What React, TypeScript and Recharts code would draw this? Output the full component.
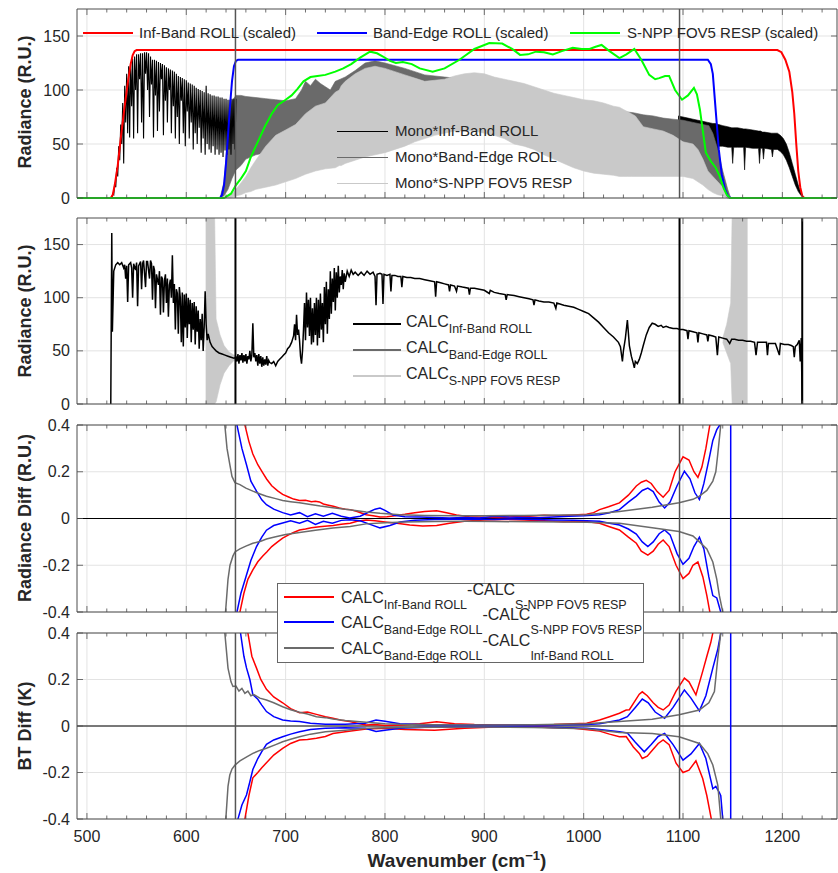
import React from 'react'
import { Area, CartesianGrid, ComposedChart, Line, ReferenceLine, XAxis, YAxis } from 'recharts'

const FONT = '"Liberation Sans", Arial, Helvetica, sans-serif'
const AXIS = '#4d4d4d'
const TXT = '#262626'
const GRID = '#e3e3e3'
const RED = '#ff0000'
const BLUE = '#0000ff'
const GREEN = '#00ff00'
const DARK = '#6a6a6a'
const LIGHT = '#c9c9c9'
const DIFF_GRAY = '#6b6b6b'
const PL = 77
const PR = 837

const X_DOMAIN: [number, number] = [490, 1255]
const xMajorTicks = [500, 600, 700, 800, 900, 1000, 1100, 1200]
const xAllTicks = [
  500, 520, 540, 560, 580, 600, 620, 640, 660, 680, 700, 720, 740, 760, 780, 800, 820, 840, 860,
  880, 900, 920, 940, 960, 980, 1000, 1020, 1040, 1060, 1080, 1100, 1120, 1140, 1160, 1180, 1200,
  1220, 1240,
]
const radTicks = [0, 50, 100, 150]
const diffTicks = [-0.4, -0.2, 0, 0.2, 0.4]
const bandEdges = [649.5, 1096.5]
const calcEdges = [649.5, 1096.5, 1220]

// ---- panel 1: response functions (scaled)
const infRollWn = [490, 524, 526, 528, 531, 534, 538, 541, 544, 546, 548, 550, 1195, 1199, 1203, 1207, 1210, 1212, 1214, 1216, 1218, 1220, 1222, 1255]
const infRollVal = [0, 0, 3, 12, 30, 55, 85, 106, 124, 132, 136, 137, 137, 135, 128, 117, 98, 78, 50, 25, 10, 2, 0, 0]
const edgeRollWn = [490, 634, 636, 638, 640, 642, 644, 646, 648, 650, 652, 1125, 1128, 1130, 1133, 1136, 1139, 1142, 1145, 1148, 1255]
const edgeRollVal = [0, 0, 3, 12, 32, 58, 85, 108, 122, 127, 128, 128, 124, 115, 80, 45, 22, 9, 2, 0, 0]
const snppWn = [
  490, 638, 645, 650, 655, 660, 665, 672, 679, 686, 692, 700, 706, 712, 718, 725, 732, 740, 750, 758,
  766, 775, 785, 792, 798, 805, 811, 818, 827, 835, 848, 860, 875, 890, 905, 918, 928, 936, 944, 952,
  960, 969, 978, 989, 998, 1006, 1012, 1018, 1026, 1036, 1043, 1051, 1058, 1066, 1072, 1076, 1082, 1086, 1092, 1099,
  1105, 1111, 1114, 1117, 1120, 1123, 1128, 1133, 1137, 1141, 1144, 1147, 1255,
]
const snppVal = [
  0, 0, 4, 12, 18, 25, 38, 52, 66, 78, 86, 91, 95, 101, 108, 112, 113, 114, 117, 120,
  124, 130, 135.5, 134, 131, 127, 125, 126, 124, 120, 117, 120, 128, 138, 143.5, 143, 138, 132.5, 133, 135.5,
  135, 133, 136, 139, 138, 138, 140, 141.7, 136, 129.6, 133, 138, 128, 114, 110, 111, 113, 113, 100, 91,
  95, 102, 96, 82, 62, 42, 34, 28, 20, 9, 3, 0, 0,
]

// ---- panel 1: mono spectra times responses
const monoInfWn = [
  525, 526, 527, 528, 529, 530, 531, 532, 533, 534, 535, 536, 537, 538, 539, 540, 541, 542, 543, 544,
  545, 546, 547, 548, 549, 550, 551, 552, 553, 554, 555, 556, 557, 558, 559, 560, 561, 562, 563, 564,
  565, 566, 567, 568, 569, 570, 571, 572, 573, 574, 575, 576, 577, 578, 579, 580, 581, 582, 583, 584,
  585, 586, 587, 588, 589, 590, 591, 592, 593, 594, 595, 596, 597, 598, 599, 600, 601, 602, 603, 604,
  605, 606, 607, 608, 609, 610, 611, 612, 613, 614, 615, 616, 617, 618, 619, 620, 621, 622, 623, 624,
  625, 626, 627, 628, 629, 630, 631, 632, 633, 634, 635, 636, 637, 638, 639, 640, 641, 642, 643, 644,
  645, 646, 647, 648, 649, 650,
]
const monoInfVal = [
  0, 4, 3, 14, 10, 28, 20, 48, 35, 68, 50, 88, 32, 104, 70, 115, 60, 122, 56, 126,
  85, 129, 55, 131, 100, 133, 60, 133, 110, 134, 70, 134, 55, 135, 115, 135, 100, 134, 75, 131,
  105, 128, 56, 128, 95, 127, 62, 126, 80, 125, 110, 124, 58, 123, 90, 121, 70, 120, 100, 119,
  60, 118, 85, 117, 55, 115, 75, 113, 50, 112, 90, 111, 60, 110, 48, 109, 80, 107, 55, 106,
  70, 105, 45, 104, 60, 102, 50, 101, 65, 100, 42, 99, 55, 98, 40, 104, 50, 97, 45, 96,
  42, 95, 48, 95, 40, 94, 45, 94, 40, 93, 42, 93, 38, 92, 44, 92, 40, 91, 45, 91,
  40, 92, 50, 92, 45, 92,
]
const monoInfTailWn = [1095, 1100, 1105, 1110, 1115, 1120, 1125, 1130, 1134, 1135, 1136, 1140, 1145, 1149, 1150, 1151, 1155, 1161, 1162, 1163, 1170, 1176, 1177, 1178, 1180, 1181, 1182, 1189, 1190, 1191, 1195, 1198, 1201, 1204, 1207, 1210, 1213, 1216, 1219, 1222]
const monoInfTailHi = [76, 75, 74, 73, 72, 71, 70, 69, 69, 68, 68, 67, 66, 65, 65, 65, 65, 64, 64, 64, 63, 62, 62, 62, 61, 61, 61, 60, 60, 60, 60, 58, 55, 50, 42, 32, 22, 12, 4, 0]
const monoInfTailLo = [66, 62, 58, 55, 52, 50, 49, 48, 48, 38, 48, 48, 47, 47, 32, 47, 47, 47, 26, 47, 46, 46, 32, 46, 46, 36, 46, 45, 38, 45, 45, 43, 40, 35, 28, 20, 12, 6, 2, 0]
const monoEdgeWn = [634, 638, 642, 646, 650, 655, 660, 670, 680, 690, 700, 710, 716, 720, 725, 730, 735, 740, 745, 750, 755, 760, 770, 780, 790, 800, 820, 840, 860, 880, 900, 920, 940, 960, 980, 1000, 1020, 1040, 1050, 1060, 1070, 1080, 1090, 1100, 1110, 1120, 1126, 1130, 1135, 1140, 1145, 1148]
const monoEdgeHi = [0, 15, 60, 90, 95, 95, 94, 93, 92, 91, 90, 92, 100, 108, 104, 110, 106, 103, 100, 108, 110, 112, 118, 125, 127, 125, 120, 114, 112, 110, 104, 100, 96, 92, 89, 86, 83, 80, 79, 77, 76, 74, 73, 72, 70, 68, 67, 60, 45, 25, 8, 0]
const monoEdgeLo = [0, 2, 8, 18, 26, 30, 36, 40, 42, 44, 46, 48, 50, 50, 52, 54, 55, 55, 56, 57, 58, 70, 80, 85, 90, 92, 90, 88, 86, 84, 80, 76, 70, 65, 60, 58, 58, 60, 62, 63, 62, 58, 50, 42, 35, 28, 22, 15, 8, 3, 0, 0]
const monoSnppWn = [638, 645, 650, 655, 660, 665, 670, 680, 690, 700, 710, 720, 730, 740, 750, 754, 756, 760, 770, 780, 790, 800, 810, 820, 830, 840, 850, 860, 870, 880, 890, 900, 910, 920, 930, 940, 950, 960, 970, 980, 990, 1000, 1010, 1020, 1030, 1036, 1040, 1044, 1048, 1052, 1060, 1070, 1080, 1090, 1100, 1110, 1115, 1120, 1125, 1130, 1135, 1140, 1146]
const monoSnppHi = [0, 3, 8, 14, 20, 28, 35, 48, 58, 63, 68, 78, 85, 88, 98, 100, 104, 108, 115, 120, 122, 120, 117, 114, 111, 108, 109, 110, 113, 115, 116, 115, 112, 110, 108, 106, 103, 100, 97, 95, 93, 91, 90, 88, 85, 84, 82, 80, 78, 76, 66, 64, 62, 58, 52, 50, 45, 36, 25, 20, 15, 10, 0]
const monoSnppLo = [0, 0, 2, 3, 5, 6, 8, 10, 12, 15, 18, 22, 25, 27, 28, 30, 30, 32, 35, 38, 40, 42, 45, 48, 52, 55, 58, 60, 62, 62, 62, 60, 58, 55, 50, 48, 45, 40, 36, 32, 28, 25, 23, 22, 21, 20, 20, 20, 20, 20, 20, 20, 20, 20, 20, 18, 15, 12, 8, 5, 3, 2, 0]

// ---- panel 2: convolved radiances
const calcWn = [
  524, 525, 525.6, 527, 529, 531, 533, 535, 537, 538,
  539, 540, 541, 542, 544, 545, 546, 547, 549, 550,
  551, 552, 554, 555, 556, 557, 559, 560, 561, 563,
  564, 565, 566, 567, 568, 569, 570, 572, 573, 574,
  575, 576, 577, 578, 579, 580, 581, 582, 583, 584,
  585, 586, 587, 588, 589, 590, 591, 592, 593, 594,
  595, 596, 597, 598, 599, 600, 601, 602, 603, 604,
  605, 606, 607, 608, 609, 610, 611, 612, 613, 614,
  615, 616, 617, 618, 619, 620, 621, 622, 624, 626,
  628, 630, 633, 636, 639, 642, 645, 648, 650, 651,
  652, 653, 654, 655, 656, 657, 658, 659, 660, 661,
  662, 663, 664, 665, 666, 667, 668, 669, 670, 671,
  672, 673, 674, 675, 676, 677, 678, 679, 680, 681,
  682, 683, 684, 686, 688, 690, 692, 694, 696, 698,
  700, 702, 704, 706, 708, 709, 710, 711, 712, 713,
  714, 715, 716, 717, 718, 719, 720, 721, 722, 723,
  724, 725, 726, 727, 728, 729, 730, 731, 732, 733,
  734, 735, 736, 737, 738, 739, 740, 741, 742, 743,
  744, 745, 746, 747, 748, 749, 750, 751, 752, 753,
  754, 755, 756, 757, 758, 759, 760, 762, 764, 766,
  768, 770, 773, 776, 779, 782, 785, 788, 790, 791,
  792, 795, 797, 798, 799, 802, 805, 806, 807, 810,
  813, 816, 817, 818, 822, 826, 830, 835, 840, 845,
  850, 851, 852, 856, 860, 864, 865, 866, 870, 872,
  873, 878, 884, 885, 886, 890, 895, 900, 905, 906,
  910, 915, 921, 922, 923, 930, 935, 940, 945, 949,
  950, 951, 955, 960, 965, 970, 972, 973, 980, 985,
  990, 995, 1000, 1005, 1010, 1015, 1020, 1025, 1030, 1035,
  1037, 1039, 1040, 1042, 1044, 1046, 1048, 1050, 1051, 1052,
  1054, 1056, 1058, 1060, 1063, 1066, 1069, 1072, 1075, 1078,
  1080, 1083, 1086, 1090, 1094, 1097, 1100, 1104, 1105, 1106,
  1110, 1114, 1115, 1116, 1120, 1124, 1125, 1126, 1130, 1133,
  1134.6, 1136, 1140, 1144, 1147, 1149, 1152, 1156, 1160, 1164,
  1168, 1172, 1173.5, 1175, 1180, 1184, 1185, 1186, 1190, 1193,
  1197, 1198, 1202, 1206, 1209, 1211, 1212, 1213, 1215, 1217,
  1218, 1219, 1220,
]
const calcVal = [
  0, 161, 68, 125, 131, 133, 131, 133, 128, 131,
  118, 130, 96, 131, 133, 128, 100, 132, 126, 133,
  92, 130, 134, 108, 132, 135, 110, 134, 134, 118,
  135, 132, 98, 130, 126, 90, 122, 112, 125, 84,
  120, 118, 86, 116, 122, 95, 118, 82, 112, 117,
  100, 140, 95, 113, 70, 108, 104, 66, 110, 100,
  58, 105, 54, 103, 72, 104, 62, 100, 75, 98,
  58, 95, 70, 96, 56, 92, 68, 88, 52, 80,
  60, 85, 50, 72, 106, 75, 60, 66, 58, 54,
  52, 50, 48, 47, 46, 45, 44, 43, 44, 40,
  47, 38, 46, 41, 48, 39, 46, 40, 47, 38,
  45, 42, 50, 40, 46, 76, 44, 48, 40, 46,
  36, 47, 38, 45, 35, 44, 36, 42, 37, 45,
  36, 41, 39, 38, 40, 36, 40, 42, 44, 46,
  48, 52, 54, 58, 64, 75, 60, 84, 65, 70,
  60, 45, 38, 50, 70, 95, 60, 105, 72, 98,
  64, 100, 56, 90, 58, 95, 65, 100, 55, 98,
  62, 104, 70, 95, 58, 110, 75, 115, 66, 108,
  80, 125, 85, 118, 96, 128, 88, 124, 100, 130,
  105, 120, 112, 126, 108, 123, 115, 125, 120, 126,
  122, 124, 121, 124, 121, 125, 122, 124, 120, 93,
  122, 123, 122, 94, 122, 121, 122, 106, 121, 121,
  120, 120, 110, 120, 119, 119, 118, 118, 117, 116,
  115, 101, 115, 114, 113, 112, 106, 112, 111, 106,
  111, 110, 109, 103, 109, 109, 108, 107, 104, 107,
  105, 104, 103, 98, 103, 102, 101, 100, 99, 98,
  93, 98, 97, 96, 96, 95, 90, 95, 93, 92,
  91, 89, 87, 85, 81, 77, 72, 67, 63, 58,
  54, 40, 50, 62, 79, 55, 45, 38, 34, 40,
  38, 42, 48, 55, 65, 72, 76, 75, 73, 74,
  72, 73, 72, 71, 71, 70, 70, 69, 61, 69,
  68, 67, 58, 67, 66, 65, 59, 65, 64, 63,
  46, 63, 62, 61, 57, 61, 61, 60, 60, 59,
  59, 58, 46, 58, 58, 58, 46, 57, 57, 57,
  46, 57, 56, 56, 55, 54, 44, 54, 56, 60,
  40, 62, 0,
]
const snppRingLeftWn = [619.5, 628.5, 630, 634, 638, 643, 648, 652]
const snppRingLeftLo = [0, 0, 2, 18, 29, 36, 41, 44]
const snppRingLeftHi = [180, 180, 80, 65, 55, 49, 46, 44]
const snppRingRightWn = [1140, 1144, 1148, 1149.5, 1165]
const snppRingRightLo = [58, 48, 38, 0, 0]
const snppRingRightHi = [62, 75, 95, 180, 180]

// ---- panel 3: radiance differences
const rdRedUpWn = [652, 659, 663, 667, 672, 677, 681, 686, 692, 697, 703, 708, 714, 720, 726, 730, 734, 738, 742, 748, 754, 760, 765, 772, 781, 788, 795, 802, 810, 820, 830, 840, 852, 862, 872, 885, 900, 915, 930, 945, 960, 975, 990, 1003, 1010, 1016, 1025, 1036, 1045, 1053, 1058, 1063, 1068, 1074, 1080, 1086, 1092, 1100, 1106, 1111, 1115, 1119, 1123, 1127, 1132]
const rdRedUpVal = [1.0, 0.4, 0.33, 0.276, 0.23, 0.195, 0.168, 0.14, 0.118, 0.103, 0.092, 0.083, 0.077, 0.078, 0.072, 0.074, 0.071, 0.062, 0.058, 0.052, 0.045, 0.04, 0.038, 0.03, 0.016, 0.012, 0.006, 0.008, 0.012, 0.018, 0.025, 0.03, 0.033, 0.025, 0.015, 0.008, 0.005, 0.004, 0.008, 0.01, 0.014, 0.012, 0.015, 0.018, 0.025, 0.038, 0.05, 0.067, 0.1, 0.139, 0.155, 0.163, 0.15, 0.115, 0.091, 0.12, 0.2, 0.264, 0.25, 0.2, 0.176, 0.22, 0.3, 0.4, 1.0]
const rdRedLoWn = [645, 654, 658, 662, 667, 672, 677, 681, 686, 692, 697, 703, 708, 714, 720, 726, 734, 742, 748, 756, 765, 772, 781, 790, 800, 812, 825, 838, 852, 865, 880, 900, 920, 940, 960, 980, 1000, 1016, 1026, 1036, 1045, 1053, 1058, 1064.6, 1070, 1075, 1080, 1086, 1093, 1100, 1106, 1110, 1115, 1120, 1124, 1127, 1132]
const rdRedLoVal = [-1.0, -0.4, -0.32, -0.26, -0.22, -0.185, -0.16, -0.143, -0.12, -0.1, -0.084, -0.07, -0.06, -0.049, -0.045, -0.04, -0.035, -0.032, -0.03, -0.025, -0.02, -0.012, -0.006, -0.01, -0.015, -0.02, -0.028, -0.032, -0.03, -0.02, -0.012, -0.006, -0.004, -0.006, -0.01, -0.014, -0.012, -0.02, -0.035, -0.049, -0.08, -0.106, -0.14, -0.157, -0.14, -0.11, -0.092, -0.12, -0.2, -0.257, -0.235, -0.2, -0.186, -0.25, -0.33, -0.4, -1.0]
const rdBlueUpWn = [645, 651, 656, 660.6, 665, 670.7, 676, 680.7, 688, 697, 705, 714, 722, 730, 738, 747, 756, 764.5, 775, 785, 790, 795, 800, 808, 820, 835, 850, 865, 880, 895, 910, 925, 940, 955, 970, 985, 1000, 1016, 1026, 1036, 1045, 1053, 1059, 1064.6, 1070, 1076, 1081.5, 1087, 1094, 1101.4, 1107, 1112, 1116.5, 1121, 1126, 1130, 1134, 1137, 1146, 1148, 1148]
const rdBlueUpVal = [1.0, 0.4, 0.3, 0.23, 0.16, 0.117, 0.08, 0.059, 0.04, 0.025, 0.015, 0.025, 0.008, 0.02, 0.01, 0.022, 0.01, 0.002, 0.01, 0.03, 0.04, 0.045, 0.035, 0.015, 0.008, 0.006, 0.004, 0.002, 0.004, 0.002, 0.01, 0.006, 0.004, 0.003, 0.006, 0.01, 0.012, 0.016, 0.025, 0.038, 0.07, 0.096, 0.12, 0.13, 0.115, 0.07, 0.045, 0.07, 0.14, 0.202, 0.17, 0.11, 0.081, 0.15, 0.25, 0.334, 0.38, 0.4, 2, 2, -2]
const rdBlueLoWn = [645, 651, 655, 660, 665, 670.7, 676, 680.7, 688, 697, 705, 714, 722, 730, 738, 747, 756, 765, 775, 785, 795, 805, 815, 830, 850, 870, 890, 910, 930, 950, 970, 990, 1003, 1016, 1026, 1036, 1045, 1053, 1059, 1064.6, 1070, 1076, 1081.5, 1087, 1094, 1100, 1106, 1111, 1116.5, 1121, 1126, 1130, 1134, 1138, 1140, 1145]
const rdBlueLoVal = [-1.0, -0.4, -0.32, -0.25, -0.18, -0.12, -0.08, -0.05, -0.03, -0.019, -0.01, -0.02, -0.008, -0.025, -0.012, -0.02, -0.008, -0.005, -0.01, -0.025, -0.04, -0.03, -0.015, -0.008, -0.004, -0.003, -0.002, -0.004, -0.002, -0.004, -0.006, -0.008, -0.01, -0.012, -0.02, -0.028, -0.045, -0.067, -0.1, -0.12, -0.1, -0.065, -0.049, -0.07, -0.15, -0.196, -0.17, -0.12, -0.08, -0.13, -0.25, -0.33, -0.34, -0.4, -0.6, -1.0]
const rdGrayUpWn = [636, 638.8, 641, 643.8, 646, 649, 654, 660, 667, 675, 680.7, 690, 697, 705, 714, 725, 735, 747.6, 760, 770, 781, 795, 815, 840, 870, 900, 940, 980, 1003, 1036, 1069, 1096, 1110, 1116.5, 1124, 1130, 1133, 1135, 1138, 1142]
const rdGrayUpVal = [1.0, 0.4, 0.3, 0.232, 0.18, 0.153, 0.145, 0.13, 0.117, 0.104, 0.095, 0.085, 0.077, 0.072, 0.067, 0.06, 0.053, 0.046, 0.04, 0.034, 0.028, 0.022, 0.016, 0.013, 0.012, 0.012, 0.013, 0.015, 0.016, 0.03, 0.048, 0.067, 0.082, 0.096, 0.12, 0.16, 0.2, 0.276, 0.4, 1.0]
const rdGrayLoWn = [636, 639.5, 642, 644, 647, 649, 654, 660, 667, 675, 680.7, 690, 700, 714, 730, 747.6, 765, 781, 800, 820, 850, 880, 910, 950, 980, 1003, 1036, 1069, 1096, 1110, 1116.5, 1124, 1130, 1134, 1136.6, 1140, 1144]
const rdGrayLoVal = [-1.0, -0.4, -0.26, -0.2, -0.16, -0.143, -0.13, -0.118, -0.106, -0.097, -0.088, -0.078, -0.068, -0.06, -0.05, -0.041, -0.034, -0.023, -0.018, -0.015, -0.013, -0.012, -0.013, -0.014, -0.015, -0.016, -0.02, -0.04, -0.056, -0.075, -0.1, -0.13, -0.186, -0.26, -0.33, -0.4, -1.0]

// ---- panel 4: brightness temperature differences
const btRedUpWn = [655, 662, 666, 670.6, 675, 680.7, 688, 697, 705, 714, 722, 731, 740, 747.6, 756, 764.5, 772, 781, 790, 800, 815, 835, 852, 870, 890, 910, 940, 970, 1003, 1016, 1026, 1036, 1042.8, 1046, 1052, 1056, 1059, 1064, 1070, 1075, 1080, 1086, 1093, 1101.4, 1106, 1113, 1119.8, 1124, 1128, 1130, 1134]
const btRedUpVal = [1.0, 0.4, 0.3, 0.25, 0.2, 0.158, 0.125, 0.1, 0.075, 0.057, 0.06, 0.05, 0.04, 0.033, 0.025, 0.019, 0.012, 0.004, 0.006, 0.002, 0.004, 0.01, 0.018, 0.01, 0.006, 0.004, 0.004, 0.006, 0.012, 0.026, 0.04, 0.055, 0.069, 0.07, 0.11, 0.137, 0.147, 0.13, 0.1, 0.08, 0.069, 0.09, 0.15, 0.206, 0.19, 0.134, 0.235, 0.3, 0.36, 0.4, 1.0]
const btRedLoWn = [652, 659, 663, 667, 672, 676, 680.7, 688, 697, 705, 714, 722, 731, 740, 747.6, 760, 781, 800, 820, 850, 880, 910, 950, 990, 1016, 1026, 1036, 1042.8, 1050, 1056, 1059, 1064, 1070, 1075, 1080, 1086, 1093, 1100, 1106, 1113, 1119.8, 1124, 1128.5, 1133]
const btRedLoVal = [-1.0, -0.4, -0.3, -0.223, -0.2, -0.18, -0.158, -0.125, -0.096, -0.075, -0.06, -0.058, -0.053, -0.045, -0.032, -0.025, -0.013, -0.01, -0.015, -0.018, -0.01, -0.004, -0.004, -0.01, -0.022, -0.035, -0.046, -0.045, -0.09, -0.118, -0.14, -0.13, -0.1, -0.075, -0.06, -0.08, -0.16, -0.2, -0.19, -0.15, -0.226, -0.3, -0.4, -1.0]
const btBlueUpWn = [650, 654.6, 658, 660.6, 664, 667, 672, 676, 680.7, 688, 697, 705, 714, 725, 740, 760, 780, 791, 800, 815, 840, 870, 900, 950, 1003, 1016, 1036, 1044, 1052, 1059, 1065, 1072, 1081.5, 1090, 1101.4, 1108, 1116.5, 1123, 1130, 1135, 1138, 1146, 1148, 1148]
const btBlueUpVal = [1.0, 0.4, 0.3, 0.25, 0.2, 0.135, 0.115, 0.09, 0.062, 0.04, 0.026, 0.022, 0.019, 0.012, 0.008, 0.008, 0.012, 0.026, 0.02, 0.01, 0.005, 0.004, 0.003, 0.004, 0.006, 0.01, 0.026, 0.04, 0.08, 0.116, 0.1, 0.06, 0.033, 0.08, 0.155, 0.12, 0.065, 0.13, 0.249, 0.33, 0.4, 2, 2, -2]
const btBlueLoWn = [648, 652, 656, 660.6, 664, 667, 672, 676, 680.7, 688, 697, 705, 714, 725, 740, 760, 780, 791, 800, 815, 840, 870, 900, 950, 1003, 1016, 1036, 1044, 1052, 1061, 1068, 1075, 1081.5, 1090, 1100, 1108, 1116.5, 1123, 1130, 1133, 1136.6, 1138, 1140, 1145]
const btBlueLoVal = [-1.0, -0.4, -0.34, -0.297, -0.24, -0.187, -0.14, -0.11, -0.079, -0.06, -0.046, -0.035, -0.025, -0.015, -0.01, -0.008, -0.01, -0.024, -0.018, -0.01, -0.005, -0.004, -0.003, -0.004, -0.01, -0.015, -0.025, -0.03, -0.07, -0.111, -0.08, -0.045, -0.032, -0.08, -0.147, -0.12, -0.075, -0.14, -0.27, -0.26, -0.286, -0.3, -0.4, -1.0]
const btGrayUpWn = [636, 638.8, 642, 645, 647, 650, 653, 656, 659, 662, 665, 668, 674, 680.7, 688, 697, 705, 714, 722, 731, 740, 747.6, 760, 781, 800, 815, 850, 900, 950, 1003, 1036, 1069, 1096, 1116.5, 1126, 1131.6, 1135, 1138, 1142]
const btGrayUpVal = [1.0, 0.4, 0.249, 0.19, 0.17, 0.172, 0.15, 0.162, 0.14, 0.15, 0.13, 0.135, 0.12, 0.112, 0.1, 0.083, 0.07, 0.059, 0.052, 0.04, 0.036, 0.03, 0.024, 0.016, 0.01, 0.007, 0.005, 0.004, 0.005, 0.01, 0.019, 0.029, 0.048, 0.069, 0.1, 0.148, 0.292, 0.4, 1.0]
const btGrayLoWn = [637, 639.8, 642, 643.8, 646, 649, 654, 660, 667, 674, 680.7, 690, 697, 705, 714, 725, 740, 760, 781, 800, 850, 900, 950, 1003, 1036, 1069, 1096, 1116.5, 1125, 1130, 1135, 1138, 1142]
const btGrayLoVal = [-1.0, -0.4, -0.26, -0.211, -0.185, -0.168, -0.15, -0.135, -0.118, -0.105, -0.096, -0.08, -0.068, -0.057, -0.046, -0.035, -0.025, -0.018, -0.01, -0.007, -0.005, -0.004, -0.006, -0.012, -0.028, -0.032, -0.046, -0.075, -0.12, -0.168, -0.254, -0.4, -1.0]

const pts = (xs: number[], ys: number[]) => xs.map((x, i) => ({ x, y: ys[i] }))
const band = (xs: number[], lo: number[], hi: number[]) => xs.map((x, i) => ({ x, r: [lo[i], hi[i]] }))

const bottomTick = (py: number, labels: boolean) => (p: any) => {
  const v = Number(p.payload?.value)
  const major = v % 100 === 0
  return (
    <g>
      <line x1={p.x} x2={p.x} y1={py} y2={py - (major ? 6 : 3.5)} stroke={AXIS} strokeWidth={0.8} />
      {labels && major ? (
        <text x={p.x} y={py + 23} textAnchor="middle" fontSize={16} fontFamily={FONT} fill={TXT}>
          {v}
        </text>
      ) : null}
    </g>
  )
}

const topTick = (py: number) => (p: any) => {
  const v = Number(p.payload?.value)
  const major = v % 100 === 0
  return <line x1={p.x} x2={p.x} y1={py} y2={py + (major ? 6 : 3.5)} stroke={AXIS} strokeWidth={0.8} />
}

const leftTick = (p: any) => {
  const v = Number(p.payload?.value)
  return (
    <g>
      <line x1={PL} x2={PL + 6} y1={p.y} y2={p.y} stroke={AXIS} strokeWidth={0.8} />
      <text x={PL - 7} y={p.y + 5.5} textAnchor="end" fontSize={16} fontFamily={FONT} fill={TXT}>
        {String(v)}
      </text>
    </g>
  )
}

const rightTick = (p: any) => <line x1={PR} x2={PR - 6} y1={p.y} y2={p.y} stroke={AXIS} strokeWidth={0.8} />

type PanelProps = {
  plotTop: number
  plotH: number
  yDomain: [number, number]
  yTicks: number[]
  xLabels?: boolean
  clip?: boolean
  children: React.ReactNode
}

// axes get a 1px box so recharts draws them; plot box is PL..PR horizontally, mt..mt+plotH vertically
function Panel({ plotTop, plotH, yDomain, yTicks, xLabels, clip, children }: PanelProps) {
  const mt = 12
  const mb = xLabels ? 32 : 12
  return (
    <div style={{ position: 'absolute', left: 0, top: plotTop - mt }}>
      <ComposedChart width={838} height={plotH + mt + mb} margin={{ top: mt - 1, right: 0, bottom: mb - 1, left: 0 }}>
        <CartesianGrid stroke={GRID} verticalValues={xMajorTicks} horizontalValues={yTicks} />
        <XAxis type="number" dataKey="x" domain={X_DOMAIN} allowDataOverflow ticks={xAllTicks} interval={0} height={1}
          tickSize={0} tickMargin={0} tickLine={false} axisLine={{ stroke: AXIS }} tick={bottomTick(mt + plotH, !!xLabels)} />
        <XAxis xAxisId="top" orientation="top" type="number" dataKey="x" domain={X_DOMAIN} allowDataOverflow ticks={xAllTicks}
          interval={0} height={1} tickSize={0} tickMargin={0} tickLine={false} axisLine={{ stroke: AXIS }} tick={topTick(mt)} />
        <YAxis type="number" domain={yDomain} allowDataOverflow={!!clip} ticks={yTicks} interval={0} width={PL}
          tickSize={0} tickMargin={0} tickLine={false} axisLine={{ stroke: AXIS }} tick={leftTick} />
        <YAxis yAxisId="right" orientation="right" type="number" domain={yDomain} allowDataOverflow ticks={yTicks} interval={0}
          width={838 - PR} tickSize={0} tickMargin={0} tickLine={false} axisLine={{ stroke: AXIS }} tick={rightTick} />
        {children}
      </ComposedChart>
    </div>
  )
}

const lineProps = { dot: false, activeDot: false, isAnimationActive: false, type: 'linear' as const, dataKey: 'y' }
const areaProps = { isAnimationActive: false, type: 'linear' as const, dataKey: 'r', fillOpacity: 1, activeDot: false }

function Swatch({ x, y, w, h, color }: { x: number; y: number; w: number; h: number; color: string }) {
  return <div style={{ position: 'absolute', left: x, top: y - h / 2, width: w, height: h, background: color }} />
}

function Txt({ x, y, size, children }: { x: number; y: number; size: number; children: React.ReactNode }) {
  return (
    <div style={{ position: 'absolute', left: x, top: y - size * 0.6, fontSize: size, lineHeight: `${size * 1.2}px`, whiteSpace: 'nowrap' }}>
      {children}
    </div>
  )
}

const Sub = ({ t }: { t: string }) => <span style={{ fontSize: 12.5, position: 'relative', top: 5.5 }}>{t}</span>
const Calc = ({ a, b }: { a: string; b?: string }) => (
  <>
    CALC<Sub t={a} />
    {b ? (
      <>
        <span style={{ position: 'relative', top: -8 }}>-CALC</span>
        <Sub t={b} />
      </>
    ) : null}
  </>
)

function YTitle({ x, y, text }: { x: number; y: number; text: string }) {
  return (
    <div style={{ position: 'absolute', left: x, top: y, transform: 'translate(-50%, -50%) rotate(-90deg)', whiteSpace: 'nowrap', fontWeight: 'bold', fontSize: 18 }}>
      {text}
    </div>
  )
}

export default function App() {
  return (
    <div style={{ position: 'absolute', left: 0, top: 0, width: 838, height: 873, background: '#fff', fontFamily: FONT, color: TXT, overflow: 'hidden' }}>
      <Panel plotTop={9} plotH={189} yDomain={[0, 175]} yTicks={radTicks}>
        <Line {...lineProps} data={pts(monoInfWn, monoInfVal)} stroke="#000" strokeWidth={1.1} />
        <Area {...areaProps} data={band(monoInfTailWn, monoInfTailLo, monoInfTailHi)} stroke="#000" strokeWidth={0.6} fill="#000" />
        <Area {...areaProps} data={band(monoEdgeWn, monoEdgeLo, monoEdgeHi)} stroke={DARK} strokeWidth={0.6} fill={DARK} />
        <Area {...areaProps} data={band(monoSnppWn, monoSnppLo, monoSnppHi)} stroke={LIGHT} strokeWidth={0.6} fill={LIGHT} />
        <Line {...lineProps} data={pts(infRollWn, infRollVal)} stroke={RED} strokeWidth={2} />
        <Line {...lineProps} data={pts(edgeRollWn, edgeRollVal)} stroke={BLUE} strokeWidth={2} />
        <Line {...lineProps} data={pts(snppWn, snppVal)} stroke={GREEN} strokeWidth={2} />
        {bandEdges.map((v) => (
          <ReferenceLine key={v} x={v} stroke="#555" strokeWidth={1.5} />
        ))}
      </Panel>

      <Panel plotTop={218} plotH={186} yDomain={[0, 175]} yTicks={radTicks} clip>
        <Area {...areaProps} data={band(snppRingLeftWn, snppRingLeftLo, snppRingLeftHi)} stroke={LIGHT} strokeWidth={0.6} fill={LIGHT} />
        <Area {...areaProps} data={band(snppRingRightWn, snppRingRightLo, snppRingRightHi)} stroke={LIGHT} strokeWidth={0.6} fill={LIGHT} />
        <Line {...lineProps} data={pts(calcWn, calcVal)} stroke="#000" strokeWidth={1.5} />
        {calcEdges.map((v) => (
          <ReferenceLine key={v} x={v} stroke="#000" strokeWidth={2} />
        ))}
      </Panel>

      <Panel plotTop={425} plotH={187} yDomain={[-0.4, 0.4]} yTicks={diffTicks} clip>
        <ReferenceLine y={0} stroke="#000" strokeWidth={1} />
        <Line {...lineProps} data={pts(rdRedUpWn, rdRedUpVal)} stroke={RED} strokeWidth={1.5} />
        <Line {...lineProps} data={pts(rdRedLoWn, rdRedLoVal)} stroke={RED} strokeWidth={1.5} />
        <Line {...lineProps} data={pts(rdBlueUpWn, rdBlueUpVal)} stroke={BLUE} strokeWidth={1.5} />
        <Line {...lineProps} data={pts(rdBlueLoWn, rdBlueLoVal)} stroke={BLUE} strokeWidth={1.5} />
        <Line {...lineProps} data={pts(rdGrayUpWn, rdGrayUpVal)} stroke={DIFF_GRAY} strokeWidth={1.5} />
        <Line {...lineProps} data={pts(rdGrayLoWn, rdGrayLoVal)} stroke={DIFF_GRAY} strokeWidth={1.5} />
        {bandEdges.map((v) => (
          <ReferenceLine key={v} x={v} stroke="#555" strokeWidth={1.5} />
        ))}
      </Panel>

      <Panel plotTop={633} plotH={186} yDomain={[-0.4, 0.4]} yTicks={diffTicks} clip xLabels>
        <ReferenceLine y={0} stroke="#000" strokeWidth={1} />
        <Line {...lineProps} data={pts(btRedUpWn, btRedUpVal)} stroke={RED} strokeWidth={1.5} />
        <Line {...lineProps} data={pts(btRedLoWn, btRedLoVal)} stroke={RED} strokeWidth={1.5} />
        <Line {...lineProps} data={pts(btBlueUpWn, btBlueUpVal)} stroke={BLUE} strokeWidth={1.5} />
        <Line {...lineProps} data={pts(btBlueLoWn, btBlueLoVal)} stroke={BLUE} strokeWidth={1.5} />
        <Line {...lineProps} data={pts(btGrayUpWn, btGrayUpVal)} stroke={DIFF_GRAY} strokeWidth={1.5} />
        <Line {...lineProps} data={pts(btGrayLoWn, btGrayLoVal)} stroke={DIFF_GRAY} strokeWidth={1.5} />
        {bandEdges.map((v) => (
          <ReferenceLine key={v} x={v} stroke="#555" strokeWidth={1.5} />
        ))}
      </Panel>

      {/* axis titles */}
      <YTitle x={25} y={102} text="Radiance (R.U.)" />
      <YTitle x={25} y={311} text="Radiance (R.U.)" />
      <YTitle x={25} y={518} text="Radiance Diff (R.U.)" />
      <YTitle x={25} y={726} text="BT Diff (K)" />
      <div style={{ position: 'absolute', left: 457, top: 860, transform: 'translate(-50%, -50%)', fontWeight: 'bold', fontSize: 19, whiteSpace: 'nowrap' }}>
        Wavenumber (cm<sup style={{ fontSize: 13 }}>−1</sup>)
      </div>

      {/* panel 1 legends */}
      <Swatch x={83} y={33} w={50} h={2} color={RED} />
      <Txt x={139} y={33} size={15}>Inf-Band ROLL (scaled)</Txt>
      <Swatch x={317} y={33} w={50} h={2} color={BLUE} />
      <Txt x={373} y={33} size={15}>Band-Edge ROLL (scaled)</Txt>
      <Swatch x={570} y={33} w={50} h={2} color={GREEN} />
      <Txt x={627} y={33} size={15}>S-NPP FOV5 RESP (scaled)</Txt>

      <Swatch x={337} y={131} w={51} h={1} color="#000" />
      <Txt x={395} y={131} size={15}>Mono*Inf-Band ROLL</Txt>
      <Swatch x={337} y={157} w={51} h={1} color={DARK} />
      <Txt x={395} y={157} size={15}>Mono*Band-Edge ROLL</Txt>
      <Swatch x={337} y={183} w={51} h={1} color={LIGHT} />
      <Txt x={395} y={183} size={15}>Mono*S-NPP FOV5 RESP</Txt>

      {/* panel 2 legend */}
      <Swatch x={353} y={324} w={48} h={2} color="#000" />
      <Txt x={406} y={322} size={16}><Calc a="Inf-Band ROLL" /></Txt>
      <Swatch x={353} y={350} w={48} h={2} color={DARK} />
      <Txt x={406} y={348} size={16}><Calc a="Band-Edge ROLL" /></Txt>
      <Swatch x={353} y={376} w={48} h={2} color={LIGHT} />
      <Txt x={406} y={374} size={16}><Calc a="S-NPP FOV5 RESP" /></Txt>

      {/* difference legend box */}
      <div style={{ position: 'absolute', left: 277, top: 583, width: 365, height: 78, background: '#fff', border: '1px solid #666' }} />
      <Swatch x={284} y={597} w={50} h={2} color={RED} />
      <Txt x={341} y={598} size={16}><Calc a="Inf-Band ROLL" b="S-NPP FOV5 RESP" /></Txt>
      <Swatch x={284} y={622} w={50} h={2} color={BLUE} />
      <Txt x={341} y={623} size={16}><Calc a="Band-Edge ROLL" b="S-NPP FOV5 RESP" /></Txt>
      <Swatch x={284} y={648} w={50} h={2} color={DIFF_GRAY} />
      <Txt x={341} y={649} size={16}><Calc a="Band-Edge ROLL" b="Inf-Band ROLL" /></Txt>
    </div>
  )
}
